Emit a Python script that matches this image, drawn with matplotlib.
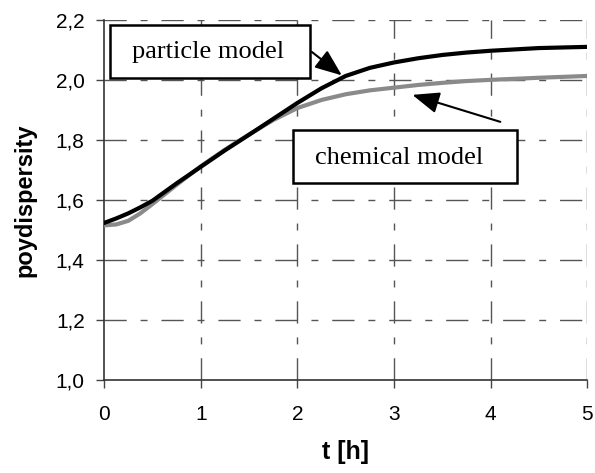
import matplotlib
matplotlib.use('Agg')
import matplotlib.pyplot as plt
from matplotlib.patches import Rectangle
from matplotlib.ticker import FuncFormatter

t = [0, 0.125, 0.25, 0.375, 0.5, 0.75, 1, 1.25, 1.5, 1.75, 2, 2.25, 2.5, 2.75, 3,
     3.25, 3.5, 3.75, 4, 4.5, 5]
particle = [1.523, 1.538, 1.555, 1.575, 1.597, 1.655, 1.710, 1.765, 1.817, 1.870, 1.923,
            1.972, 2.013, 2.040, 2.058, 2.072, 2.083, 2.091, 2.097, 2.106, 2.110]
chemical = [1.515, 1.518, 1.530, 1.555, 1.586, 1.650, 1.712, 1.767, 1.818, 1.866, 1.906,
            1.933, 1.952, 1.965, 1.974, 1.983, 1.990, 1.996, 2.000, 2.007, 2.013]

xticks = [0, 1, 2, 3, 4, 5]
yticks = [1.0, 1.2, 1.4, 1.6, 1.8, 2.0, 2.2]

fig = plt.figure(figsize=(5.95, 4.73), dpi=100)
ax = fig.add_axes([0.175, 0.197, 0.812, 0.761])

grid_kw = dict(color='#555555', lw=1.0, dashes=(16, 10, 5, 10))
for x in xticks[1:]:
    ax.axvline(x, zorder=0, **grid_kw)
for y in yticks[1:]:
    ax.axhline(y, zorder=0, **grid_kw)

ax.plot(t, chemical, color='#8a8a8a', lw=3, zorder=3)
ax.plot(t, particle, color='black', lw=3, zorder=4)

ax.set_xlim(0, 5)
ax.set_ylim(1.0, 2.2)
ax.set_xticks(xticks)
ax.set_yticks(yticks)
ax.yaxis.set_major_formatter(FuncFormatter(lambda v, p: ('%.1f' % v).replace('.', ',')))
ax.tick_params(direction='out', length=6, width=1, color='#444444', labelsize=15)
ax.tick_params(axis='x', pad=12)
ax.tick_params(axis='y', pad=8)
for lab in ax.get_xticklabels() + ax.get_yticklabels():
    lab.set_family('Liberation Sans')
for s in ['top', 'right']:
    ax.spines[s].set_visible(False)
for s in ['left', 'bottom']:
    ax.spines[s].set_color('#333333')
    ax.spines[s].set_linewidth(1.2)

ax.set_xlabel('t [h]', fontsize=18, fontweight='bold', family='Liberation Sans', labelpad=12)
ax.set_ylabel('poydispersity', fontsize=17, fontweight='bold', family='Liberation Sans', labelpad=14)

# label boxes
ax.add_patch(Rectangle((0.062, 2.007), 2.071, 0.176, fc='white', ec='black', lw=1.8,
                       zorder=6, clip_on=False))
ax.text(1.08, 2.093, 'particle model', fontsize=19, family='Liberation Serif',
        ha='center', va='center', zorder=7)
ax.add_patch(Rectangle((1.957, 1.657), 2.318, 0.176, fc='white', ec='black', lw=1.8,
                       zorder=6, clip_on=False))
ax.text(3.05, 1.740, 'chemical model', fontsize=19, family='Liberation Serif',
        ha='center', va='center', zorder=7)

arrow = dict(arrowstyle='-|>,head_length=0.55,head_width=0.22', color='black', lw=1.5,
             mutation_scale=30, shrinkA=0, shrinkB=0)
ax.annotate('', xy=(2.46, 2.015), xytext=(2.15, 2.093), arrowprops=arrow, zorder=8)
ax.annotate('', xy=(3.19, 1.950), xytext=(4.10, 1.860), arrowprops=arrow, zorder=8)

fig.savefig('out.png', dpi=100)
